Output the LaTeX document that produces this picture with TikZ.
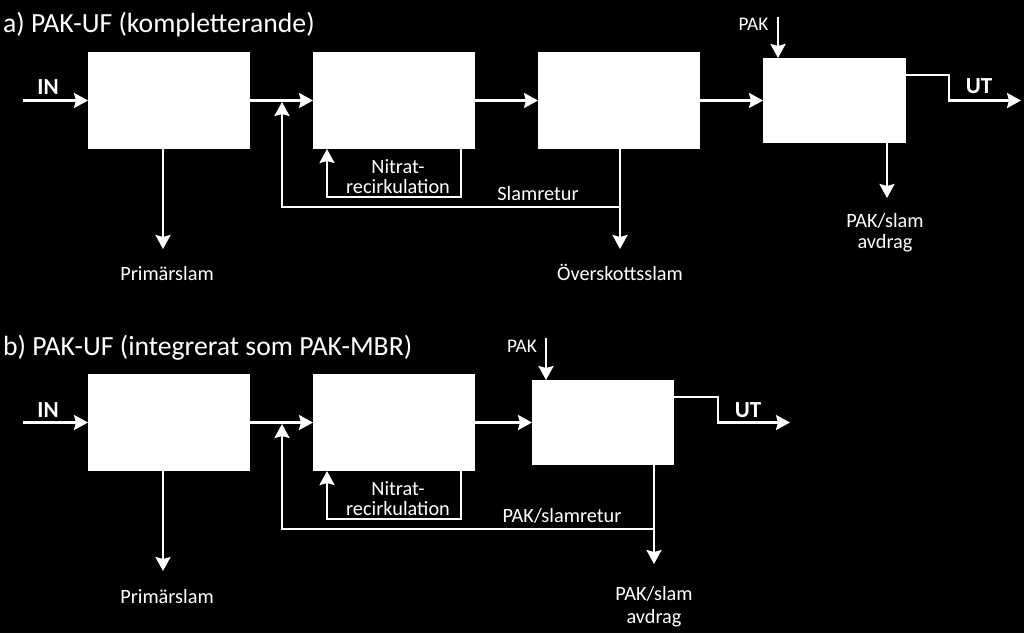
\documentclass[tikz,border=0pt]{standalone}
\usepackage{fontspec}
\setmainfont{Carlito}
\usetikzlibrary{arrows.meta}
\begin{document}
\begin{tikzpicture}[x=1pt,y=-1pt,
  box/.style={fill=white,inner sep=0pt,outer sep=0pt,anchor=north west},
  bigbox/.style={box,minimum width=162pt,minimum height=97pt},
  flow/.style={white,line width=2.5pt,-{Stealth[length=14pt,width=15pt,inset=2pt]}},
  plain/.style={white,line width=2.5pt},
  lbl/.style={text=white,font=\fontsize{20.3}{24}\selectfont,inner sep=0pt,anchor=base},
  pak/.style={text=white,font=\fontsize{19.3}{23}\selectfont,inner sep=0pt,anchor=base},
  io/.style={text=white,font=\fontsize{23}{27}\selectfont\bfseries,inner sep=0pt,anchor=base},
  ttl/.style={text=white,font=\fontsize{27.7}{32}\selectfont,inner sep=0pt,anchor=base west}]
\fill[black] (0,0) rectangle (1024,633);
\useasboundingbox (0,0) rectangle (1024,633);

% ---------------- Part a ----------------
\node[ttl] (titleA) at (3,32) {a) PAK-UF (kompletterande)};
\node[bigbox] (a1) at (88,52) {};
\node[bigbox] (a2) at (313,52) {};
\node[bigbox] (a3) at (538,52) {};
\node[box,minimum width=143pt,minimum height=85pt] (a4) at (763,58) {};

\coordinate (inA) at (23,100.5);
\node[io] (inAl) at (48,94) {IN};
\draw[flow] (inA) -- (a1.west);
\draw[flow] (a1.east) -- (a2.west);
\draw[flow] (a2.east) -- (a3.west);
\draw[flow] (a3.east) -- (a4.west);

% PAK dosing
\coordinate (pakA) at (778,17);
\node[pak] (pakAl) at (753.5,30) {PAK};
\draw[flow] (pakA) -- (a4.north -| pakA);

% UT
\coordinate (utA1) at (949,75);
\coordinate (utA2) at (949,100.5);
\coordinate (utA3) at (1021,100.5);
\draw[flow] (a4.east |- utA1) -- (utA1) -- (utA2) -- (utA3);
\node[io] (utAl) at (979,93) {UT};

% Primärslam
\coordinate (psA) at (163,249);
\draw[flow] (a1.south -| psA) -- (psA);
\node[lbl] (psAl) at (167,280) {Primärslam};

% Nitrat recirculation
\coordinate (nA1) at (461,197);
\coordinate (nA2) at (327,197);
\draw[flow] (a2.south -| nA1) -- (nA1) -- (nA2) -- (a2.south -| nA2);
\node[lbl] (nitA1) at (398,173) {Nitrat-};
\node[lbl] (nitA2) at (398,193) {recirkulation};

% Slamretur
\coordinate (srA1) at (620,207);
\coordinate (srA2) at (282,207);
\coordinate (srA3) at (282,102);
\coordinate (osA) at (620,249);
\draw[flow] (a3.south -| srA1) -- (osA);
\draw[flow] (srA1) -- (srA2) -- (srA3);
\node[lbl] (srAl) at (538,200) {Slamretur};
\node[lbl] (osAl) at (620,280) {Överskottsslam};

% PAK/slam avdrag
\coordinate (avA) at (887,198);
\draw[flow] (a4.south -| avA) -- (avA);
\node[lbl] (avAl1) at (885,227) {PAK/slam};
\node[lbl] (avAl2) at (885,248) {avdrag};

% ---------------- Part b ----------------
\node[ttl] (titleB) at (3,355) {b) PAK-UF (integrerat som PAK-MBR)};
\node[bigbox] (b1) at (88,374) {};
\node[bigbox] (b2) at (313,374) {};
\node[box,minimum width=142pt,minimum height=85pt] (b3) at (532,380) {};

\coordinate (inB) at (23,422.5);
\node[io] (inBl) at (48,417) {IN};
\draw[flow] (inB) -- (b1.west);
\draw[flow] (b1.east) -- (b2.west);
\draw[flow] (b2.east) -- (b3.west);

% PAK dosing
\coordinate (pakB) at (546,338);
\node[pak] (pakBl) at (522,352) {PAK};
\draw[flow] (pakB) -- (b3.north -| pakB);

% UT
\coordinate (utB1) at (718,397);
\coordinate (utB2) at (718,422.5);
\coordinate (utB3) at (790,422.5);
\draw[flow] (b3.east |- utB1) -- (utB1) -- (utB2) -- (utB3);
\node[io] (utBl) at (748,417) {UT};

% Primärslam
\coordinate (psB) at (163,571);
\draw[flow] (b1.south -| psB) -- (psB);
\node[lbl] (psBl) at (167,603) {Primärslam};

% Nitrat recirculation
\coordinate (nB1) at (461,519);
\coordinate (nB2) at (327,519);
\draw[flow] (b2.south -| nB1) -- (nB1) -- (nB2) -- (b2.south -| nB2);
\node[lbl] (nitB1) at (398,495) {Nitrat-};
\node[lbl] (nitB2) at (398,515) {recirkulation};

% PAK/slamretur
\coordinate (srB1) at (654,529);
\coordinate (srB2) at (282,529);
\coordinate (srB3) at (282,424);
\coordinate (avB) at (654,564);
\draw[flow] (b3.south -| srB1) -- (avB);
\draw[flow] (srB1) -- (srB2) -- (srB3);
\node[lbl] (srBl) at (562,522) {PAK/slamretur};
\node[lbl] (avBl1) at (654,600) {PAK/slam};
\node[lbl] (avBl2) at (654,623) {avdrag};
\end{tikzpicture}
\end{document}
